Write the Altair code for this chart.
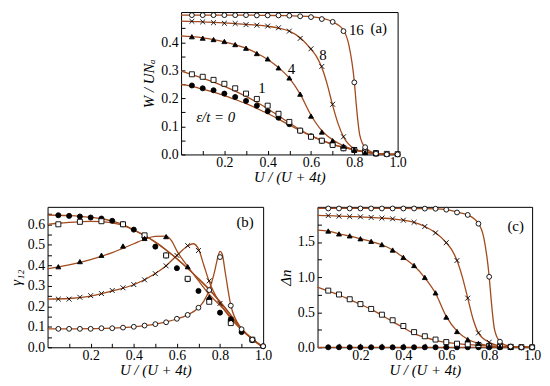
import altair as alt
import pandas as pd

EPS = ["0", "1", "4", "8", "16"]
XM = [0.05, 0.10, 0.15, 0.20, 0.25, 0.30, 0.35, 0.40, 0.45, 0.50,
      0.55, 0.60, 0.65, 0.70, 0.75, 0.80, 0.85, 0.90, 0.95, 1.00]
XL = [0.00] + XM

# ---------- panel (a): W / U N_a ----------
W0_M = [0.246, 0.236, 0.229, 0.217, 0.205, 0.191, 0.174, 0.154, 0.131, 0.108,
        0.085, 0.065, 0.049, 0.034, 0.022, 0.016, 0.010, 0.004, None, None]
W1_M = [0.286, 0.277, 0.266, 0.252, 0.236, 0.217, 0.198, 0.174, 0.145, 0.116,
        0.085, 0.063, 0.049, 0.034, 0.022, 0.016, 0.011, 0.005, 0.002, 0.001]
W4_M = [0.420, 0.415, 0.410, 0.403, 0.392, 0.379, 0.360, 0.341, 0.309, 0.273,
        0.215, 0.137, 0.080, 0.049, 0.030, 0.016, 0.007, 0.002, None, None]
W8_M = [0.475, 0.473, 0.470, 0.468, 0.467, 0.463, 0.461, 0.458, 0.452, 0.440,
        0.414, 0.377, 0.314, 0.179, 0.063, 0.018, 0.008, 0.003, None, None]
W16_M = [0.497, 0.497, 0.497, 0.497, 0.497, 0.497, 0.496, 0.496, 0.496, 0.495,
         0.493, 0.490, 0.483, 0.473, 0.440, 0.257, 0.026, 0.003, 0.0, 0.0]

W0_L = [0.251, 0.243, 0.233, 0.222, 0.210, 0.196, 0.181, 0.164, 0.146, 0.126, 0.105,
        0.085, 0.066, 0.050, 0.036, 0.025, 0.016, 0.009, 0.004, 0.001, 0.0]
W1_L = [0.297, 0.285, 0.272, 0.258, 0.243, 0.226, 0.207, 0.186, 0.163, 0.138, 0.112,
        0.088, 0.067, 0.050, 0.036, 0.025, 0.016, 0.009, 0.004, 0.001, 0.0]
W4_L = [0.423, 0.420, 0.416, 0.410, 0.402, 0.392, 0.379, 0.361, 0.339, 0.310, 0.272,
        0.215, 0.140, 0.085, 0.052, 0.031, 0.017, 0.008, 0.003, 0.001, 0.0]
W8_LX = [0.0, 0.05, 0.10, 0.15, 0.20, 0.25, 0.30, 0.35, 0.40, 0.45, 0.50, 0.55, 0.60,
         0.625, 0.65, 0.675, 0.70, 0.725, 0.75, 0.80, 0.85, 0.90, 0.95, 1.0]
W8_LY = [0.476, 0.475, 0.473, 0.471, 0.469, 0.467, 0.464, 0.461, 0.457, 0.451, 0.440, 0.416, 0.375,
         0.350, 0.310, 0.250, 0.175, 0.110, 0.063, 0.020, 0.008, 0.003, 0.001, 0.0]
W16_LX = [0.0, 0.1, 0.2, 0.3, 0.4, 0.5, 0.6, 0.65, 0.7, 0.75, 0.775, 0.8, 0.81, 0.825,
          0.85, 0.9, 0.95, 1.0]
W16_LY = [0.497, 0.497, 0.497, 0.497, 0.496, 0.495, 0.492, 0.486, 0.473, 0.443, 0.390, 0.260,
          0.170, 0.070, 0.025, 0.004, 0.001, 0.0]

# ---------- panel (b): gamma_12 ----------
G0_M = [0.644, 0.641, 0.638, 0.633, 0.628, 0.617, 0.600, 0.574, 0.536, 0.491,
        0.448, 0.386, 0.332, 0.275, 0.232, 0.169, 0.134, 0.074, 0.035, 0.005]
G1_M = [0.600, None, 0.612, None, 0.615, None, 0.600, None, 0.546, None,
        0.448, None, 0.334, None, 0.222, None, 0.118, None, 0.037, None]
G4_M = [0.393, None, 0.418, None, 0.449, None, 0.494, None, 0.531, None,
        0.540, None, 0.393, None, 0.245, None, 0.142, None, None, None]
G8_M = [0.235, 0.235, 0.244, 0.252, 0.262, 0.277, 0.290, 0.306, 0.329, 0.359,
        0.397, 0.448, 0.496, 0.472, 0.324, 0.214, 0.134, None, None, None]
G16_M = [0.090, 0.090, 0.090, 0.090, 0.093, 0.093, 0.096, 0.100, 0.106, 0.113,
         0.122, 0.139, 0.158, 0.193, 0.279, 0.440, 0.203, 0.088, 0.037, 0.005]

G0_L = [0.645, 0.644, 0.642, 0.639, 0.634, 0.627, 0.615, 0.598, 0.572, 0.545, 0.513,
        0.475, 0.432, 0.385, 0.335, 0.282, 0.222, 0.157, 0.090, 0.040, 0.0]
G1_L = [0.600, 0.605, 0.609, 0.612, 0.614, 0.613, 0.607, 0.595, 0.572, 0.545, 0.513,
        0.475, 0.432, 0.385, 0.335, 0.282, 0.222, 0.157, 0.090, 0.040, 0.0]
G4_LX = [0.0, 0.1, 0.2, 0.3, 0.4, 0.45, 0.5, 0.55, 0.575, 0.6, 0.65, 0.7, 0.75, 0.8,
         0.85, 0.9, 0.95, 1.0]
G4_LY = [0.383, 0.402, 0.428, 0.462, 0.505, 0.527, 0.541, 0.542, 0.520, 0.470, 0.395, 0.325,
         0.258, 0.205, 0.148, 0.090, 0.040, 0.0]
G8_LX = [0.0, 0.1, 0.2, 0.3, 0.4, 0.5, 0.55, 0.6, 0.65, 0.675, 0.7, 0.725, 0.75, 0.8,
         0.85, 0.9, 0.95, 1.0]
G8_LY = [0.235, 0.238, 0.250, 0.275, 0.305, 0.360, 0.398, 0.448, 0.494, 0.505, 0.480, 0.400,
         0.320, 0.215, 0.140, 0.085, 0.040, 0.0]
G16_LX = [0.0, 0.1, 0.2, 0.3, 0.4, 0.5, 0.6, 0.65, 0.7, 0.725, 0.75, 0.775, 0.79, 0.8,
          0.81, 0.825, 0.85, 0.9, 0.95, 1.0]
G16_LY = [0.090, 0.090, 0.091, 0.093, 0.100, 0.113, 0.138, 0.158, 0.193, 0.225, 0.280, 0.370,
          0.440, 0.468, 0.455, 0.360, 0.205, 0.090, 0.040, 0.0]

# ---------- panel (c): Delta n ----------
D0_M = [0.0] * 20
D1_M = [0.807, 0.752, 0.684, 0.615, 0.546, 0.464, 0.385, 0.303, 0.216, 0.157,
        0.110, 0.074, 0.051, 0.042, 0.033, 0.020, 0.012, 0.006, 0.002, 0.0]
D4_M = [1.656, 1.615, 1.587, 1.546, 1.509, 1.463, 1.385, 1.280, 1.165, 0.995,
        0.775, 0.430, 0.225, 0.110, 0.055, 0.020, 0.008, 0.003, None, None]
D8_M = [1.876, 1.867, 1.862, 1.858, 1.849, 1.840, 1.830, 1.810, 1.780, 1.720,
        1.630, 1.490, 1.236, 0.700, 0.205, 0.072, 0.020, 0.005, None, None]
D16_M = [1.977, 1.977, 1.977, 1.977, 1.977, 1.977, 1.977, 1.977, 1.977, 1.975,
         1.973, 1.960, 1.920, 1.885, 1.760, 1.004, 0.080, 0.010, 0.0, 0.0]

D0_L = [0.0] * 21
D1_L = [0.858, 0.800, 0.745, 0.680, 0.612, 0.540, 0.455, 0.365, 0.280, 0.195, 0.140,
        0.100, 0.070, 0.052, 0.038, 0.027, 0.018, 0.010, 0.004, 0.001, 0.0]
D4_L = [1.670, 1.655, 1.617, 1.585, 1.546, 1.507, 1.460, 1.385, 1.280, 1.160, 0.990,
        0.770, 0.440, 0.230, 0.115, 0.055, 0.022, 0.008, 0.003, 0.001, 0.0]
D8_LX = W8_LX
D8_LY = [1.880, 1.876, 1.868, 1.862, 1.857, 1.849, 1.840, 1.829, 1.810, 1.780, 1.720, 1.630, 1.490,
         1.390, 1.236, 1.000, 0.700, 0.400, 0.205, 0.070, 0.020, 0.005, 0.001, 0.0]
D16_LX = W16_LX
D16_LY = [1.978, 1.978, 1.978, 1.978, 1.977, 1.975, 1.962, 1.925, 1.885, 1.765, 1.560, 1.004,
          0.650, 0.250, 0.080, 0.010, 0.001, 0.0]

# annotations in (a)
A_TEXT = ["16", "8", "4", "1"]
A_X = [0.775, 0.638, 0.493, 0.356]
A_Y = [0.443, 0.355, 0.303, 0.237]
EPS_LABEL = "ε/t = 0"

FONT = "Liberation Serif"
LINE = "#a24a1c"
SHAPES = ["circle", "square", "triangle-up", "M-1,-1L1,1M-1,1L1,-1", "circle"]
FILLS = ["black", "white", "black", "white", "white"]
SIZES = [26, 24, 32, 24, 28]


def mk_markers(series):
    rows = []
    for eps, ys in series:
        for x, y in zip(XM, ys):
            if y is not None:
                rows.append({"eps": eps, "x": x, "y": y})
    return pd.DataFrame(rows)


def mk_lines(series):
    rows = []
    for eps, xs, ys in series:
        for x, y in zip(xs, ys):
            rows.append({"eps": eps, "x": x, "y": y})
    return pd.DataFrame(rows)


XT = [0.1, 0.2, 0.3, 0.4, 0.5, 0.6, 0.7, 0.8, 0.9, 1.0]
XLAB = "round(datum.value*10) % 2 == 0 ? format(datum.value, '.1f') : ''"


def panel(mdf, ldf, ydom, yvals, ylab, ytitle, title_y):
    xsc = alt.Scale(domain=[0, 1], nice=False, zero=False)
    ysc = alt.Scale(domain=ydom, nice=False, zero=False)
    xax = alt.Axis(values=XT, labelExpr=XLAB, title="U / (U + 4t)", offset=-4,
                   tickSize=4, domain=False, grid=False, labelPadding=1,
                   titlePadding=0, labelFlush=False, labelOverlap=False,
                   titleY=title_y, titleBaseline="top")
    yax = alt.Axis(values=yvals, labelExpr=ylab, title=ytitle, offset=-4,
                   tickSize=4, domain=False, grid=False, labelPadding=3,
                   titlePadding=4, labelFlush=False, labelOverlap=False)
    X = alt.X("x:Q", scale=xsc, axis=xax)
    Y = alt.Y("y:Q", scale=ysc, axis=yax)
    lines = alt.Chart(ldf).mark_line(color=LINE, strokeWidth=1.3,
                                     interpolate="monotone").encode(
        x=X, y=Y, detail="eps:N",
    )
    pts = alt.Chart(mdf).mark_point(filled=True, stroke="black", strokeWidth=0.9,
                                    opacity=1).encode(
        x=X, y=Y,
        shape=alt.Shape("eps:O", scale=alt.Scale(domain=EPS, range=SHAPES), legend=None),
        fill=alt.Fill("eps:O", scale=alt.Scale(domain=EPS, range=FILLS), legend=None),
        size=alt.Size("eps:O", scale=alt.Scale(domain=EPS, range=SIZES), legend=None),
    )
    return lines, pts, X, Y


def label(df, X, Y, italic=False):
    kw = {"fontStyle": "italic"} if italic else {}
    return alt.Chart(df).mark_text(align="left", baseline="middle", fontSize=15,
                                   font=FONT, color="black", **kw).encode(
        x=X, y=Y, text="t:N")


# ---- panel a
ma = mk_markers([("0", W0_M), ("1", W1_M), ("4", W4_M), ("8", W8_M), ("16", W16_M)])
la = mk_lines([("0", XL, W0_L), ("1", XL, W1_L), ("4", XL, W4_L),
               ("8", W8_LX, W8_LY), ("16", W16_LX, W16_LY)])
YA = [0.0, 0.05, 0.1, 0.15, 0.2, 0.25, 0.3, 0.35, 0.4, 0.45]
YALAB = "round(datum.value*20) % 2 == 0 ? format(datum.value, '.1f') : ''"
l_a, p_a, X_a, Y_a = panel(ma, la, [0, 0.508], YA, YALAB, "W / UNₐ", 19)
t_a = label(pd.DataFrame({"x": A_X, "y": A_Y, "t": A_TEXT}), X_a, Y_a)
t_eps = label(pd.DataFrame({"x": [0.07], "y": [0.134], "t": [EPS_LABEL]}), X_a, Y_a, True)
t_la = label(pd.DataFrame({"x": [0.875], "y": [0.45], "t": ["(a)"]}), X_a, Y_a)
chart_a = alt.layer(l_a, p_a, t_a, t_eps, t_la).properties(width=219, height=144)

# ---- panel b
mb = mk_markers([("0", G0_M), ("1", G1_M), ("4", G4_M), ("8", G8_M), ("16", G16_M)])
lb = mk_lines([("0", XL, G0_L), ("1", XL, G1_L), ("4", G4_LX, G4_LY),
               ("8", G8_LX, G8_LY), ("16", G16_LX, G16_LY)])
YB = [0.0, 0.05, 0.1, 0.15, 0.2, 0.25, 0.3, 0.35, 0.4, 0.45, 0.5, 0.55, 0.6, 0.65]
l_b, p_b, X_b, Y_b = panel(mb, lb, [0, 0.685], YB, YALAB, "γ₁₂", 20)
t_lb = label(pd.DataFrame({"x": [0.876], "y": [0.613], "t": ["(b)"]}), X_b, Y_b)
chart_b = alt.layer(l_b, p_b, t_lb).properties(width=218, height=142)

# ---- panel c
mc = mk_markers([("0", D0_M), ("1", D1_M), ("4", D4_M), ("8", D8_M), ("16", D16_M)])
lc = mk_lines([("0", XL, D0_L), ("1", XL, D1_L), ("4", XL, D4_L),
               ("8", D8_LX, D8_LY), ("16", D16_LX, D16_LY)])
YC = [0.0, 0.25, 0.5, 0.75, 1.0, 1.25, 1.5, 1.75]
YCLAB = "round(datum.value*4) % 2 == 0 ? format(datum.value, '.1f') : ''"
l_c, p_c, X_c, Y_c = panel(mc, lc, [0, 2.0], YC, YCLAB, "Δn", 20)
t_lc = label(pd.DataFrame({"x": [0.885], "y": [1.73], "t": ["(c)"]}), X_c, Y_c)
chart_c = alt.layer(l_c, p_c, t_lc).properties(width=217, height=142)

# invisible spacer that shifts panel (a) to the centre
spacer = alt.Chart(pd.DataFrame({"x": [0]})).mark_point(opacity=0, size=0).encode(
    x=alt.value(0), y=alt.value(5)
).properties(width=94, height=10, view=alt.ViewBackground(stroke="transparent"))

top = alt.hconcat(spacer, chart_a, spacing=0)
bottom = alt.hconcat(chart_b, chart_c, spacing=5)
chart = alt.vconcat(top, bottom, spacing=18).properties(
    padding={"left": 0, "top": 0, "right": 0, "bottom": 0}, background="white"
).configure_view(stroke="black", strokeWidth=1).configure_axis(
    labelFont=FONT, titleFont=FONT, labelFontSize=14, titleFontSize=15,
    labelColor="black", titleColor="black", tickColor="black",
    titleFontWeight="normal", titleFontStyle="italic", tickWidth=1,
    labelOverlap=False,
)

chart.save("out.html", embed_options={"renderer": "svg", "actions": False})
